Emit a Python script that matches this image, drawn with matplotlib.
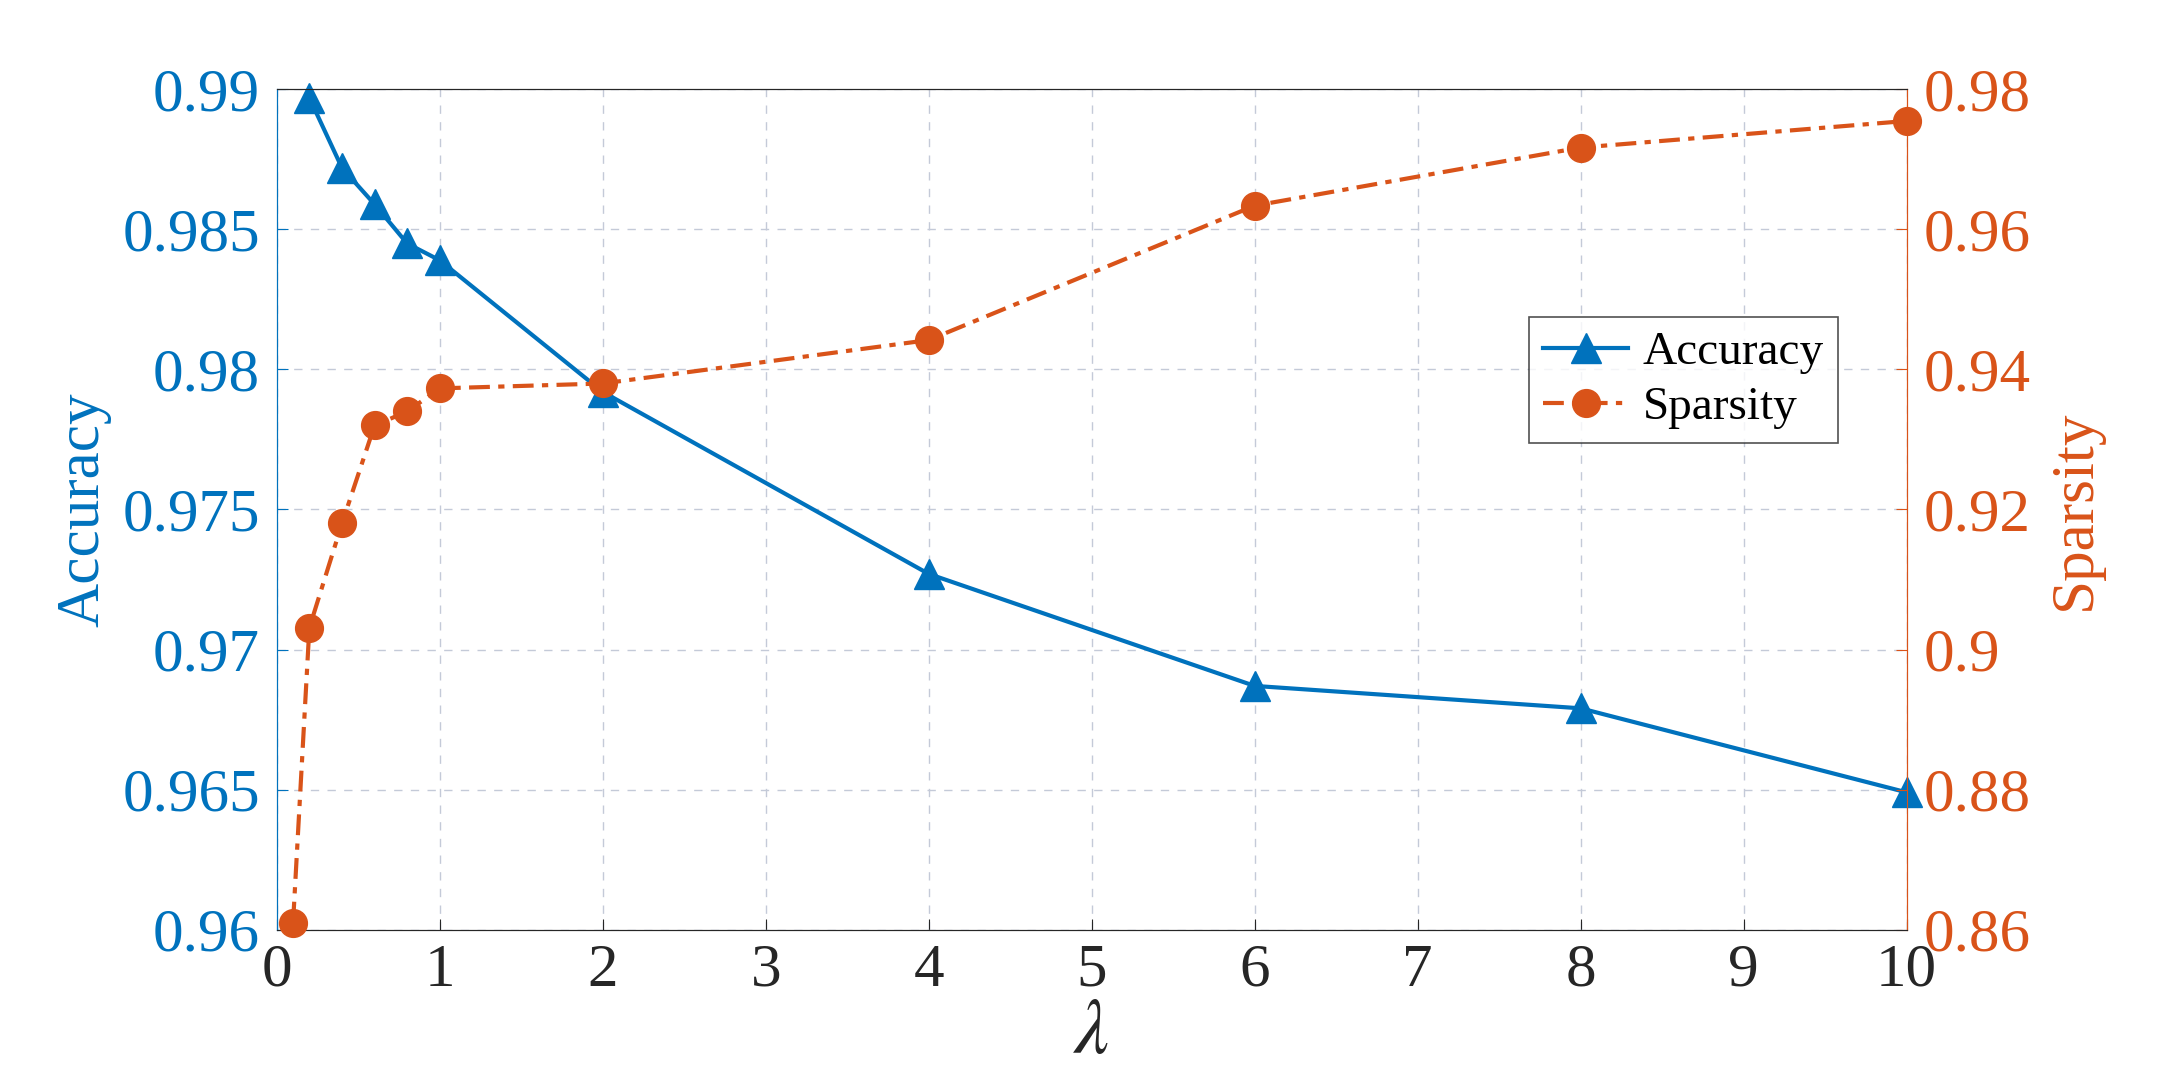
import matplotlib
matplotlib.use("Agg")
import matplotlib.pyplot as plt

acc_x = [0.2, 0.4, 0.6, 0.8, 1, 2, 4, 6, 8, 10]
acc_y = [0.9897, 0.9872, 0.9859, 0.9845, 0.9839, 0.9792, 0.9727, 0.9687, 0.9679, 0.9649]
sp_x = [0.1, 0.2, 0.4, 0.6, 0.8, 1, 2, 4, 6, 8, 10]
sp_y = [0.861, 0.9031, 0.918, 0.932, 0.934, 0.9373, 0.938, 0.9442, 0.9634, 0.9717, 0.9755]
xticks = list(range(0, 11))
acc_ticks = [0.96, 0.965, 0.97, 0.975, 0.98, 0.985, 0.99]
acc_labels = ["0.96", "0.965", "0.97", "0.975", "0.98", "0.985", "0.99"]
sp_ticks = [0.86, 0.88, 0.9, 0.92, 0.94, 0.96, 0.98]
sp_labels = ["0.86", "0.88", "0.9", "0.92", "0.94", "0.96", "0.98"]

blue = "#0072BD"
orange = "#D95319"
plt.rcParams['font.family'] = ['Liberation Serif', 'DejaVu Serif']
plt.rcParams['mathtext.fontset'] = 'stix'

fig = plt.figure(figsize=(21.69, 10.91), dpi=100)
ax = fig.add_axes([0.1276, 0.148, 0.7514, 0.770])
ax2 = ax.twinx()

ax.grid(True, linestyle=(0, (6, 6)), color="#c4cad8", linewidth=1.0)
la, = ax.plot(acc_x, acc_y, color=blue, lw=3, marker="^", ms=22, label="Accuracy",
              clip_on=False, zorder=5)
ls, = ax2.plot(sp_x, sp_y, color=orange, lw=3, ls=(0, (5, 2, 1.5, 2)), marker="o", ms=20,
               label="Sparsity", clip_on=False, zorder=5)

ax.set_xlim(0, 10)
ax.set_ylim(0.96, 0.99)
ax2.set_ylim(0.86, 0.98)
ax.set_xticks(xticks)
ax.set_yticks(acc_ticks)
ax.set_yticklabels(acc_labels)
ax2.set_yticks(sp_ticks)
ax2.set_yticklabels(sp_labels)

ax.tick_params(axis='x', labelsize=44, colors="#262626", direction='in', length=8, pad=10)
ax.tick_params(axis='y', labelsize=44, colors=blue, direction='in', length=8, pad=12)
ax2.tick_params(axis='y', labelsize=44, colors=orange, direction='in', length=8, pad=12)
for a in (ax, ax2):
    a.spines['left'].set_color(blue)
    a.spines['right'].set_color(orange)
    a.spines['top'].set_color("#262626")
    a.spines['bottom'].set_color("#262626")
ax.set_xlabel(r"$\lambda$", fontsize=56, color="#262626", labelpad=0)
ax.set_ylabel("Accuracy", fontsize=44, color=blue, labelpad=8)
ax2.set_ylabel("Sparsity", fontsize=44, color=orange, labelpad=12)

leg = ax2.legend(handles=[la, ls], loc="upper left", bbox_to_anchor=(0.754, 0.757),
                 fontsize=34, frameon=True, fancybox=False, edgecolor="#262626",
                 handlelength=1.8, handletextpad=0.3, borderpad=0.3, labelspacing=0.25)
leg.get_frame().set_linewidth(1.2)

fig.savefig("out.png", dpi=100)
